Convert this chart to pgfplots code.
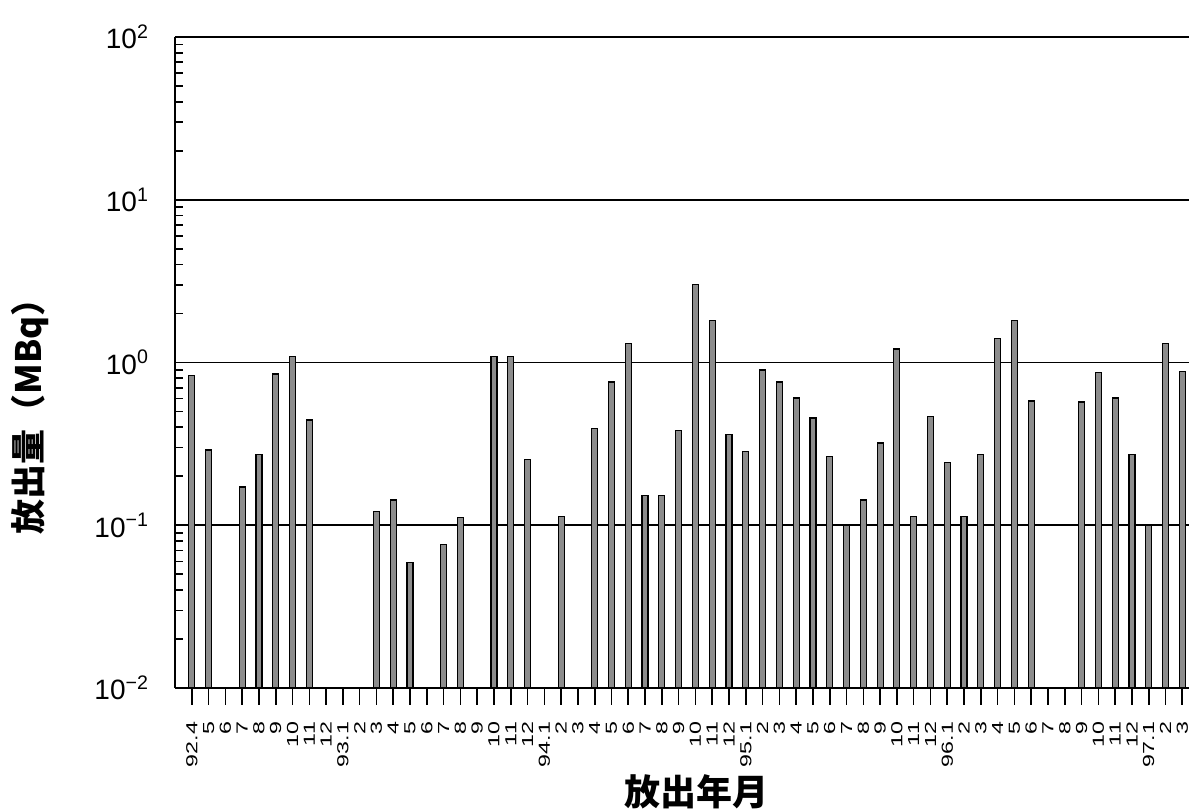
\documentclass[border=0pt]{standalone}
\usepackage{fontspec}
\setmainfont{Liberation Sans}
\newfontfamily\cjk{Noto Sans CJK JP}
\newfontfamily\xtf[FakeStretch=1.45]{Liberation Sans}
\usepackage{pgfplots}
\pgfplotsset{compat=1.18}
\begin{document}
\begin{tikzpicture}
\begin{axis}[name=ax, scale only axis, width=507pt, height=325.5pt,
  ymode=log, ymin=0.01, ymax=100, xmin=-1, xmax=59.4,
  axis x line*=bottom, axis y line*=left,
  axis line style={line width=1pt},
  ybar, bar width=3pt, bar shift=0pt, log origin=infty,
  tick align=outside,
  major tick length=8.5pt, minor tick length=4pt,
  tick style={black, line width=0.8pt},
  minor y tick style={xshift=4pt},
  major y tick style={draw=none},
  xtick={0,...,59},
  xticklabels={92.4,5,6,7,8,9,10,11,12,93.1,2,3,4,5,6,7,8,9,10,11,12,94.1,2,3,4,5,6,7,8,9,10,11,12,95.1,2,3,4,5,6,7,8,9,10,11,12,96.1,2,3,4,5,6,7,8,9,10,11,12,97.1,2,3},
  xticklabel style={font=\xtf\fontsize{8}{9}\selectfont, yshift=-5pt, rotate=90, anchor=east},
  ytick={0.01,0.1,1,10,100},
  yticklabels={10\textsuperscript{−2},10\textsuperscript{−1},10\textsuperscript{0},10\textsuperscript{1},10\textsuperscript{2}},
  yticklabel style={font=\fontsize{14}{16}\selectfont, xshift=-1pt},
  ymajorgrids, grid style={line width=0.9pt, black},
  xlabel={\cjk\bfseries 放出年月},
  ylabel={\cjk\bfseries 放出量（MBq）},
  every axis x label/.style={at={(rel axis cs:0.514,0)}, yshift=-52pt, anchor=center, font=\fontsize{18}{20}\selectfont},
  every axis y label/.style={at={(rel axis cs:0,0.43)}, xshift=-72.5pt, rotate=90, anchor=center, font=\fontsize{17.5}{19}\selectfont},
]
\addplot[fill=black!45, draw=black, line width=0.6pt] coordinates {
(0,0.836) (1,0.29) (3,0.172) (4,0.272) (5,0.851) (6,1.09) (7,0.443)
(11,0.121) (12,0.143) (13,0.059) (15,0.076) (16,0.112)
(18,1.09) (19,1.09) (20,0.254) (22,0.113)
(24,0.392) (25,0.76) (26,1.31) (27,0.153) (28,0.153) (29,0.382)
(30,3.0) (31,1.82) (32,0.363) (33,0.284) (34,0.90) (35,0.758)
(36,0.605) (37,0.456) (38,0.264) (39,0.10) (40,0.143) (41,0.32)
(42,1.21) (43,0.113) (44,0.465) (45,0.242) (46,0.113) (47,0.272)
(48,1.41) (49,1.82) (50,0.58) (53,0.572) (54,0.864) (55,0.605)
(56,0.272) (57,0.10) (58,1.31) (59,0.885)
};
\end{axis}
\pgfresetboundingbox
\useasboundingbox ([xshift=-87.5pt,yshift=-61.5pt]ax.south west) rectangle ([yshift=18.5pt]ax.north east);
\end{tikzpicture}
\end{document}
